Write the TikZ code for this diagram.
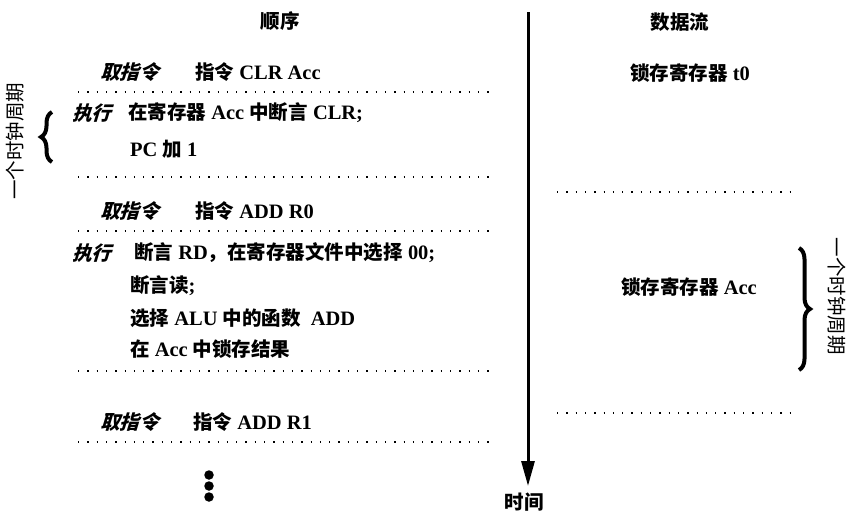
\documentclass[tikz,border=0pt]{standalone}
\usepackage{fontspec}
\setmainfont{Liberation Serif}[Scale=1.05]
\newfontfamily\cjk{Noto Sans CJK SC}
\newfontfamily\cjksl{Noto Sans CJK SC}[FakeSlant=0.3]
\usetikzlibrary{arrows.meta,decorations.pathreplacing}
\newcommand\zh[1]{{\cjk #1}}
\newcommand\zhsl[1]{{\cjksl #1}}
\begin{document}
\begin{tikzpicture}[x=1pt,y=-1pt,
  txt/.style={anchor=west,inner sep=0pt,font=\fontsize{19.5}{22}\selectfont\bfseries},
  ctxt/.style={inner sep=0pt,font=\fontsize{19.5}{22}\selectfont\bfseries},
  vtxt/.style={inner sep=0pt,font=\fontsize{19.5}{22}\selectfont\mdseries},
  sep/.style={line width=1.4pt,dash pattern=on 1.3pt off 8pt},
  bracestyle/.style={line width=4pt,decorate,decoration={brace,amplitude=11pt}},
  dotmark/.style={circle,fill=black,inner sep=0pt,minimum size=9.5pt}]
\useasboundingbox (0,0) rectangle (849,514);
% headings
\node[ctxt] (hseq) at (280,21) {\zh{顺序}};
\node[ctxt] (hdf) at (680,22) {\zh{数据流}};
% time arrow
\coordinate (ttop) at (528,12);
\coordinate (tbot) at (528,486);
\draw[line width=3pt,-{Triangle[length=25pt,width=13pt]}] (ttop) -- (tbot);
\node[ctxt] (time) at (524,502) {\zh{时间}};
% row 1
\node[txt] (f1) at (100,72) {\zhsl{取指令}};
\node[txt] (i1) at (195,72) {\zh{指令} CLR Acc};
\coordinate (s1a) at (78,92); \coordinate (s1b) at (492,92);
\draw[sep] (s1a) -- (s1b);
\node[txt] (e1) at (72,113) {\zhsl{执行}};
\node[txt] (e1a) at (128,113) {\zh{在寄存器} Acc \zh{中断言} CLR;};
\node[txt] (e1b) at (130,149) {PC \zh{加} 1};
\coordinate (s2a) at (78,177); \coordinate (s2b) at (492,177);
\draw[sep] (s2a) -- (s2b);
% row 2
\node[txt] (f2) at (100,211) {\zhsl{取指令}};
\node[txt] (i2) at (195,211) {\zh{指令} ADD R0};
\coordinate (s3a) at (78,231); \coordinate (s3b) at (492,231);
\draw[sep] (s3a) -- (s3b);
\node[txt] (e2) at (72,253) {\zhsl{执行}};
\node[txt] (e2a) at (134,253) {\zh{断言} RD\zh{，在寄存器文件中选择} 00;};
\node[txt] (e2b) at (130,286) {\zh{断言读};};
\node[txt] (e2c) at (130,318) {\zh{选择} ALU \zh{中的函数}\ \ ADD};
\node[txt] (e2d) at (130,349) {\zh{在} Acc \zh{中锁存结果}};
\coordinate (s4a) at (78,371); \coordinate (s4b) at (492,371);
\draw[sep] (s4a) -- (s4b);
% row 3
\node[txt] (f3) at (100,422) {\zhsl{取指令}};
\node[txt] (i3) at (193,422) {\zh{指令} ADD R1};
\coordinate (s5a) at (78,442); \coordinate (s5b) at (492,442);
\draw[sep] (s5a) -- (s5b);
\node[dotmark] (dt1) at (209,475) {};
\node[dotmark] (dt2) at (209,486) {};
\node[dotmark] (dt3) at (209,497) {};
% left clock cycle
\coordinate (lb1) at (52,162); \coordinate (lb2) at (52,112);
\draw[bracestyle] (lb1) -- (lb2);
\node[vtxt,rotate=90] (lcyc) at (15,141) {\zh{一个时钟周期}};
% data flow
\node[ctxt] (d1) at (690,73) {\zh{锁存寄存器} t0};
\coordinate (r1a) at (557,192); \coordinate (r1b) at (790,192);
\draw[sep] (r1a) -- (r1b);
\node[ctxt] (d2) at (689,287) {\zh{锁存寄存器} Acc};
\coordinate (r2a) at (557,413); \coordinate (r2b) at (790,413);
\draw[sep] (r2a) -- (r2b);
% right clock cycle
\coordinate (rb1) at (799,248); \coordinate (rb2) at (799,370);
\draw[bracestyle] (rb1) -- (rb2);
\node[vtxt,rotate=-90] (rcyc) at (837,296) {\zh{一个时钟周期}};
\end{tikzpicture}
\end{document}
